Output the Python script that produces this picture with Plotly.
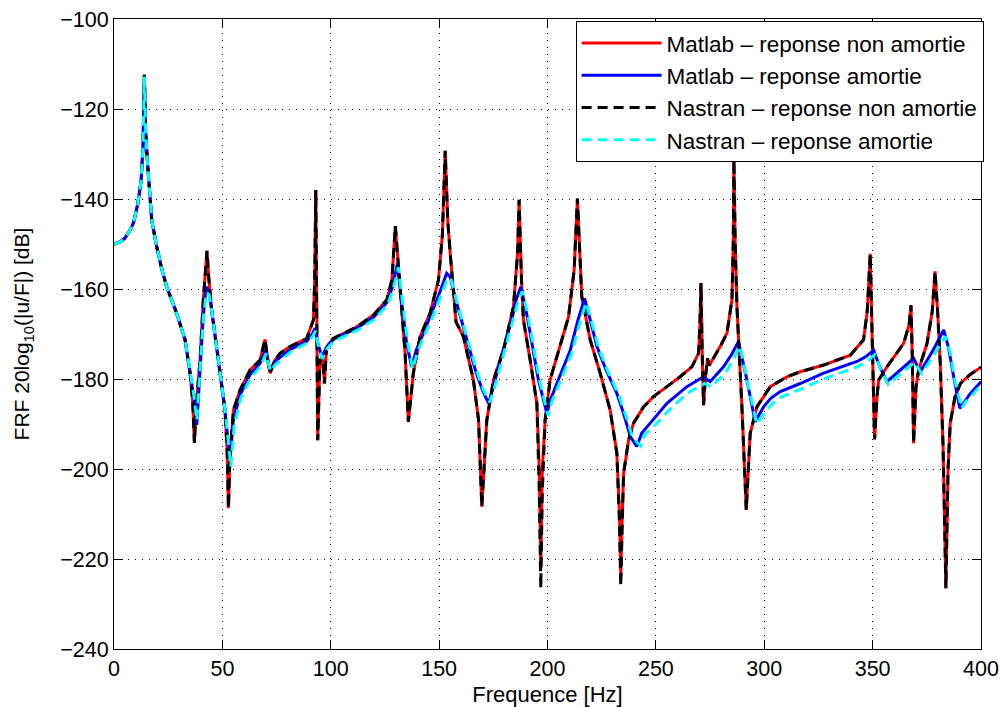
import plotly.graph_objects as go

# ---------------- data ----------------
f_matlab_na = [0, 3, 5, 7, 9, 11, 12.5, 13.4, 14.0, 14.6, 15.4, 16.5, 17.4, 19.7, 22, 24.3, 28.9, 32.8,
               35.1, 36.3, 37.1, 37.9, 39.7, 41.2, 42.9, 43.8, 45.1, 48.2, 51.2, 52.2, 52.8, 53.5, 55.1,
               58.2, 62.8, 67.4, 69.7, 71, 72.0, 74, 76.6, 81.2, 88.9, 92.0, 92.6, 93.1, 93.6, 94.0, 95,
               96.2, 97.1, 98, 99, 101.2, 112, 119.7, 125.9, 128.2, 129.8, 132, 134.3, 135.8, 138.1,
               141.2, 145.8, 149.7, 151.5, 152.8, 154, 155.1, 157, 157.8, 161.2, 165.8, 168.2, 169.7,
               172, 175.1, 179.7, 184.3, 186.2, 186.9, 188, 188.9, 192, 195.1, 196.2, 196.9, 197.6,
               198.9, 201.2, 205.8, 209.7, 212.3, 213.8, 215, 215.8, 219.7, 224.3, 228.9, 232, 233.2,
               233.8, 234.5, 235.1, 237.4, 239.7, 244.3, 248.9, 255.1, 261.2, 266.6, 269.7, 270.3,
               270.8, 271.4, 272, 272.8, 273.8, 274.6, 277, 280, 282.8, 285.1, 285.7, 286, 286.6,
               287.4, 289.7, 291.7, 293.5, 296.6, 302.8, 310.5, 316.6, 327.4, 339.7, 345.8, 347.5,
               348.9, 350, 350.9, 352, 352.8, 356.6, 364.3, 366.8, 367.7, 368.3, 368.9, 370, 371.2,
               375.1, 377.5, 378.8, 380, 381.2, 382.5, 383.8, 384.8, 385.8, 388, 390.5, 395, 400]
db_matlab_na = [-150, -149.5, -148.7, -147.3, -145.3, -141, -136, -128, -112.4, -125, -131.5, -140, -144.7,
                -150.6, -155.5, -159.5, -165.4, -171.3, -178.7, -185, -194.2, -186, -175.8, -162.4,
                -151.5, -158, -164.7, -175.8, -186.9, -196, -208.7, -197, -186.9, -182.4, -178, -175.8,
                -171.2, -176, -178.7, -176, -174.3, -172.8, -171, -166.9, -158, -138, -170, -193.6, -176,
                -175, -181, -173.5, -172.3, -171, -168.4, -165.8, -162.4, -158, -146, -159.5, -174.3,
                -189.5, -178.7, -170.6, -165.4, -158, -148, -129.3, -145, -152, -164, -167.3, -170.6,
                -180.2, -189.1, -208.4, -189.1, -180.2, -173.6, -163.9, -152, -140.2, -158, -166.9,
                -175.8, -185.4, -200, -222.4, -200, -189.1, -180.2, -172.8, -166.2, -155.8, -139.9, -153,
                -161.7, -171.3, -178.7, -186.9, -196.5, -210, -223.9, -210, -201, -193.6, -189.8, -186.2,
                -183.9, -181.7, -179.5, -177.3, -174.3, -168, -158.7, -175, -185.8, -180, -175.4, -177,
                -175, -172.5, -169.8, -162.4, -150, -131.2, -150, -163.9, -186.2, -209.1, -192.1, -186.2,
                -181.7, -179.5, -178.4, -176.9, -174.7, -171.3, -165, -152.2, -175, -193.4, -184, -180.2,
                -177.3, -172.1, -168, -163.6, -175, -194.3, -182, -178, -172.1, -165, -156.1, -165,
                -176.5, -195, -226.5, -200, -189.8, -184, -181, -179, -177.4]

f_matlab_a = [0, 3, 5, 7, 9, 11, 12.5, 13.4, 14.0, 14.6, 15.4, 16.5, 17.4, 19.7, 22, 24.3, 28.9, 32.8,
              35.1, 36.8, 38.2, 39.7, 41.2, 42.5, 43.8, 45.1, 48.2, 51.2, 53.5, 55.1, 58.2, 62.8, 67.4,
              70, 71, 72, 74, 76.6, 81.2, 88.9, 91.5, 92.8, 94, 95.8, 97, 98.2, 101.2, 112, 119.7,
              125.9, 128.5, 130.8, 132.5, 135, 137.3, 139.5, 142.8, 146, 149.7, 153.5, 155.1, 158,
              162.8, 167, 170, 172.8, 175, 178.2, 183.5, 185.5, 187.7, 190, 192, 195.8, 199.7, 201.5,
              204.3, 210.5, 214, 217.1, 219.5, 222.8, 227, 232, 235, 238.2, 241.2, 243.5, 247.4, 255.1,
              264.3, 272, 275, 278, 281.2, 285, 288.1, 292, 295.8, 299.7, 303, 307.4, 316.6, 327.4,
              342.8, 347, 350.5, 353, 356.6, 362.8, 368.9, 372, 375, 378, 382.8, 385, 387.4, 390.2,
              392.5, 395.1, 400]
db_matlab_a = [-150, -149.5, -148.7, -147.3, -145.3, -141, -136, -128, -112.6, -125, -131.5, -140, -144.7,
               -150.6, -155.5, -159.5, -165.4, -171.3, -178.5, -184, -190.2, -178, -166, -159.5, -160.5,
               -165, -176, -187, -198, -189, -183.5, -179, -176.5, -173.5, -176, -178.3, -176.3, -175.2,
               -173.5, -171.6, -170, -168.7, -172, -175, -174, -172.8, -171.2, -168.7, -166.3, -163,
               -159.5, -154.3, -162, -172, -177.3, -173.5, -169.8, -166, -161.5, -156.5, -157.3, -163,
               -171.3, -178.5, -182.5, -185.4, -181.8, -175.8, -166.9, -162.5, -159.5, -164.5, -169.8,
               -180.2, -187.6, -184.5, -181, -173.6, -167, -162.1, -166.5, -172.8, -178, -183.2, -187.5,
               -192.8, -195, -192, -189.8, -185.4, -181.7, -179.5, -180.6, -179, -177.3, -174.5, -171.7,
               -180.2, -189.5, -186.2, -184.3, -182.8, -181, -178.7, -176.1, -175, -173.6, -177, -180.6,
               -178, -175.4, -178.4, -176, -173.5, -169.1, -173, -179.5, -186.5, -185, -183.2, -180.6]

f_nastran_na = [0, 3, 5, 7, 9, 11, 12.5, 13.4, 14.0, 14.6, 15.4, 16.5, 17.4, 19.7, 22, 24.3, 28.9, 32.8,
                35.1, 36.3, 37.1, 37.9, 39.7, 41.2, 42.9, 43.8, 45.1, 48.2, 51.2, 52.2, 52.8, 53.5, 55.1,
                58.2, 62.8, 67.4, 69.7, 71, 72.0, 74, 76.6, 81.2, 88.9, 92.0, 92.6, 93.1, 93.6, 94.0, 95,
                96.2, 97.1, 98, 99, 101.2, 112, 119.7, 125.9, 128.2, 129.8, 132, 134.3, 135.8, 138.1,
                141.2, 145.8, 149.7, 151.5, 152.8, 154, 155.1, 157, 157.8, 161.2, 165.8, 168.2, 169.7,
                172, 175.1, 179.7, 184.3, 186.2, 186.9, 188, 188.9, 192, 195.1, 196.2, 196.9, 197.6,
                198.9, 201.2, 205.8, 209.7, 212.3, 213.8, 215, 215.8, 219.7, 224.3, 228.9, 232, 233.2,
                233.8, 234.5, 235.1, 237.4, 239.7, 244.3, 248.9, 255.1, 261.2, 266.6, 269.7, 270.3,
                270.8, 271.4, 272, 272.8, 273.8, 274.6, 277, 280, 282.8, 285.1, 285.7, 286, 286.6,
                287.4, 289.7, 291.7, 293.5, 296.6, 302.8, 310.5, 316.6, 327.4, 339.7, 345.8, 347.5,
                348.9, 350, 350.9, 352, 352.8, 356.6, 364.3, 366.8, 367.7, 368.3, 368.9, 370, 371.2,
                375.1, 377.5, 378.8, 380, 381.2, 382.5, 383.8, 384.8, 385.8, 388, 390.5, 395, 400]
db_nastran_na = [-150, -149.5, -148.7, -147.3, -145.3, -141, -136, -128, -112.4, -125, -131.5, -140, -144.7,
                 -150.6, -155.5, -159.5, -165.4, -171.3, -178.7, -185, -194.2, -186, -175.8, -162.4,
                 -151.5, -158, -164.7, -175.8, -186.9, -196, -208.7, -197, -186.9, -182.4, -178, -175.8,
                 -171.2, -176, -178.7, -176, -174.3, -172.8, -171, -166.9, -158, -138, -170, -193.6, -176,
                 -175, -181, -173.5, -172.3, -171, -168.4, -165.8, -162.4, -158, -146, -159.5, -174.3,
                 -189.5, -178.7, -170.6, -165.4, -158, -148, -129.3, -145, -152, -164, -167.3, -170.6,
                 -180.2, -189.1, -208.4, -189.1, -180.2, -173.6, -163.9, -152, -140.2, -158, -166.9,
                 -175.8, -185.4, -205, -226.5, -205, -189.1, -180.2, -172.8, -166.2, -155.8, -139.9, -153,
                 -161.7, -171.3, -178.7, -186.9, -196.5, -212, -226.1, -212, -201, -193.6, -189.8, -186.2,
                 -183.9, -181.7, -179.5, -177.3, -174.3, -168, -158.7, -175, -185.8, -180, -175.4, -177,
                 -175, -172.5, -169.8, -162.4, -150, -131.2, -150, -163.9, -186.2, -209.1, -192.1, -186.2,
                 -181.7, -179.5, -178.4, -176.9, -174.7, -171.3, -165, -152.2, -175, -193.4, -184, -180.2,
                 -177.3, -172.1, -168, -163.6, -175, -194.3, -182, -178, -172.1, -165, -156.1, -165,
                 -176.5, -195, -226.5, -200, -189.8, -184, -181, -179, -177.4]

f_nastran_a = [0, 3, 5, 7, 9, 11, 12.5, 13.4, 14.0, 14.6, 15.4, 16.5, 17.4, 19.7, 22, 24.3, 28.9, 32.8,
               35.1, 36.8, 38.2, 39.7, 41.2, 42.6, 43.9, 45.3, 48.4, 51.4, 53.9, 55.5, 58.5, 63, 67.6,
               70.2, 71.2, 72.3, 74.2, 76.8, 81.4, 89, 91.7, 93, 94.2, 96, 97.2, 98.4, 101.4, 112.2,
               120, 126.2, 128.8, 131.2, 133, 135.5, 137.8, 140, 143.2, 146.5, 150, 154, 155.6, 158.5,
               163.3, 167.5, 170.5, 173.3, 175.5, 178.8, 184, 186, 188.3, 190.6, 192.6, 196.4, 200.3,
               202, 204.8, 211, 214.6, 217.8, 220.2, 223.5, 227.8, 232.8, 236, 239.2, 243.1, 245, 248.5,
               255.1, 264.3, 272.5, 275.7, 278.5, 281.8, 285.5, 288.7, 292.6, 296.5, 300.3, 303.5,
               307.8, 316.6, 327.4, 342.8, 347.3, 351, 353.6, 357.2, 363, 369.4, 372.6, 375.5, 378.6,
               383.5, 385.7, 388, 391, 393, 395.5, 400]
db_nastran_a = [-150, -149.5, -148.7, -147.3, -145.3, -141, -136, -128, -112.8, -125, -131.5, -140, -144.7,
                -150.6, -155.5, -159.5, -165.4, -171.3, -178.3, -183.5, -189.2, -178, -166.5, -160.8,
                -161.3, -165.5, -176.5, -187.5, -199.5, -190, -184.3, -179.8, -177.2, -174.3, -176.6,
                -178.3, -176.9, -175.8, -174, -172, -170.5, -169.3, -172.5, -175.5, -174.3, -173.2,
                -171.6, -169.2, -166.8, -163.5, -160, -155.2, -162.5, -172, -177.8, -174, -170.3, -166.8,
                -162.5, -157.5, -158, -163.5, -171.5, -178.5, -182.5, -185.2, -182, -176.3, -167.5,
                -163.5, -160.5, -165, -170.3, -180.5, -188.2, -185, -181.8, -174.5, -168, -163,
                -167, -173, -178.3, -183.5, -188, -193, -194.9, -192.3, -190.8, -187.4, -183.2, -181,
                -181.8, -180.3, -178.8, -176, -172.7, -181, -190, -187.5, -185.6, -184, -182.3, -180,
                -177.3, -176.2, -174.6, -177.8, -181.2, -178.8, -176.3, -178.8, -176.7, -174.5, -170.5,
                -174, -180.5, -186.5, -185, -183.8, -181.3]

series_names = ["Matlab \u2013 reponse non amortie", "Matlab \u2013 reponse amortie",
                "Nastran \u2013 reponse non amortie", "Nastran \u2013 reponse amortie"]
x_ticks = [0, 50, 100, 150, 200, 250, 300, 350, 400]
y_ticks = [-240, -220, -200, -180, -160, -140, -120, -100]

# ---------------- figure ----------------
FONT = "Liberation Sans, Arial, Helvetica, sans-serif"
fig = go.Figure()
fig.add_trace(go.Scatter(x=f_matlab_na, y=db_matlab_na, mode="lines", name=series_names[0],
                         line=dict(color="#FF0000", width=3), legendgroup="a"))
fig.add_trace(go.Scatter(x=f_matlab_a, y=db_matlab_a, mode="lines", name=series_names[1],
                         line=dict(color="#0000FF", width=3), legendgroup="b"))
fig.add_trace(go.Scatter(x=f_nastran_na, y=db_nastran_na, mode="lines", name=series_names[2],
                         line=dict(color="#000000", width=3, dash="10px,6px"), legendgroup="c"))
fig.add_trace(go.Scatter(x=f_nastran_a, y=db_nastran_a, mode="lines", name=series_names[3],
                         line=dict(color="#00FFFF", width=3, dash="10px,6px"), legendgroup="d"))

axis_common = dict(showline=True, linecolor="black", linewidth=1, mirror="ticks",
                   ticks="inside", ticklen=9, tickcolor="black", tickwidth=1,
                   showgrid=True, gridcolor="black", gridwidth=1, griddash="1px,6px",
                   zeroline=False, tickfont=dict(family=FONT, size=21.5, color="black"))

fig.update_xaxes(range=[0, 400], tickvals=x_ticks, **axis_common,
                 title=dict(text="Frequence [Hz]", font=dict(family=FONT, size=22, color="black"),
                            standoff=12))
fig.update_yaxes(range=[-240, -100], tickvals=y_ticks, **axis_common,
                 title=dict(text="FRF 20log<sub>10</sub>(|u/F|) [dB]",
                            font=dict(family=FONT, size=21, color="black"), standoff=24))

fig.update_layout(
    width=1001, height=707,
    margin=dict(l=114, r=20, t=19, b=58, autoexpand=False),
    paper_bgcolor="white", plot_bgcolor="white",
    showlegend=True,
    legend=dict(x=1.003, xanchor="right", y=0.997, yanchor="top",
                bgcolor="white", bordercolor="black", borderwidth=1,
                font=dict(family=FONT, size=22.5, color="black"),
                itemwidth=80, tracegroupgap=3, traceorder="normal"),
)

fig.write_html("out.html", config={"displayModeBar": False},
               post_script="document.body.style.margin='0';document.body.style.overflow='hidden';")
